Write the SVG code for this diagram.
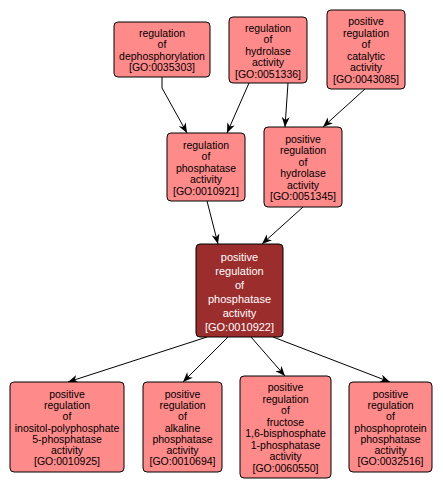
<svg xmlns="http://www.w3.org/2000/svg" width="443" height="490" viewBox="0 0 443 490">
<style>
.n rect{fill:#ff8a8a;stroke:#000;stroke-width:1}
.n text{font-family:"Liberation Sans",Arial,sans-serif;font-size:10.5px;fill:#000;text-anchor:middle}
.m rect{fill:#9b2d2d;stroke:#000;stroke-width:1}
.m text{font-family:"Liberation Sans",Arial,sans-serif;font-size:11px;fill:#fff;text-anchor:middle}
.e path{fill:none;stroke:#000;stroke-width:1;marker-end:url(#ah)}
</style>
<defs>
<marker id="ah" viewBox="0 0 10 8" refX="10" refY="4" markerWidth="10" markerHeight="8" markerUnits="userSpaceOnUse" orient="auto">
<path d="M0,0 L10,4 L0,8 L3,4 z" fill="#000"/>
</marker>
</defs>
<rect width="443" height="490" fill="#fff"/>
<g id="edges" class="e">
<path d="M162,77 L162,88 L187,133"/>
<path d="M249,83 L227,133"/>
<path d="M288,83 L285,127"/>
<path d="M365,89 L323,127"/>
<path d="M207,201 L218,244"/>
<path d="M303,207 L262,244"/>
<path d="M207,337 L68,382"/>
<path d="M228,337 L183,382"/>
<path d="M251,337 L285,376"/>
<path d="M273,337 L390,382"/>
</g>
<g id="GO0035303" class="n">
<rect x="114" y="22" width="96" height="55" rx="4"/>
<text><tspan x="162" y="36.75">regulation</tspan><tspan x="162" y="48.25">of</tspan><tspan x="162" y="59.75">dephosphorylation</tspan><tspan x="162" y="71.25">[GO:0035303]</tspan></text>
</g>
<g id="GO0051336" class="n">
<rect x="229" y="17" width="78" height="66" rx="4"/>
<text><tspan x="268" y="31.5">regulation</tspan><tspan x="268" y="43">of</tspan><tspan x="268" y="54.5">hydrolase</tspan><tspan x="268" y="66">activity</tspan><tspan x="268" y="77.5">[GO:0051336]</tspan></text>
</g>
<g id="GO0043085" class="n">
<rect x="327" y="10" width="78" height="79" rx="4"/>
<text><tspan x="366" y="25.25">positive</tspan><tspan x="366" y="36.75">regulation</tspan><tspan x="366" y="48.25">of</tspan><tspan x="366" y="59.75">catalytic</tspan><tspan x="366" y="71.25">activity</tspan><tspan x="366" y="82.75">[GO:0043085]</tspan></text>
</g>
<g id="GO0010921" class="n">
<rect x="167" y="133" width="78" height="68" rx="4"/>
<text><tspan x="206" y="148.5">regulation</tspan><tspan x="206" y="160">of</tspan><tspan x="206" y="171.5">phosphatase</tspan><tspan x="206" y="183">activity</tspan><tspan x="206" y="194.5">[GO:0010921]</tspan></text>
</g>
<g id="GO0051345" class="n">
<rect x="264" y="127" width="78" height="80" rx="4"/>
<text><tspan x="303" y="142.75">positive</tspan><tspan x="303" y="154.25">regulation</tspan><tspan x="303" y="165.75">of</tspan><tspan x="303" y="177.25">hydrolase</tspan><tspan x="303" y="188.75">activity</tspan><tspan x="303" y="200.25">[GO:0051345]</tspan></text>
</g>
<g id="GO0010922" class="m">
<rect x="196" y="244" width="87" height="93" rx="4"/>
<text><tspan x="239.5" y="261.3">positive</tspan><tspan x="239.5" y="275.3">regulation</tspan><tspan x="239.5" y="289.3">of</tspan><tspan x="239.5" y="303.3">phosphatase</tspan><tspan x="239.5" y="317.3">activity</tspan><tspan x="239.5" y="331.3">[GO:0010922]</tspan></text>
</g>
<g id="GO0010925" class="n">
<rect x="10" y="382" width="114" height="90" rx="4"/>
<text><tspan x="67" y="397.9">positive</tspan><tspan x="67" y="409.1">regulation</tspan><tspan x="67" y="420.3">of</tspan><tspan x="67" y="431.5">inositol-polyphosphate</tspan><tspan x="67" y="442.7">5-phosphatase</tspan><tspan x="67" y="453.9">activity</tspan><tspan x="67" y="465.1">[GO:0010925]</tspan></text>
</g>
<g id="GO0010694" class="n">
<rect x="143" y="382" width="79" height="90" rx="4"/>
<text><tspan x="182.5" y="397.9">positive</tspan><tspan x="182.5" y="409.1">regulation</tspan><tspan x="182.5" y="420.3">of</tspan><tspan x="182.5" y="431.5">alkaline</tspan><tspan x="182.5" y="442.7">phosphatase</tspan><tspan x="182.5" y="453.9">activity</tspan><tspan x="182.5" y="465.1">[GO:0010694]</tspan></text>
</g>
<g id="GO0060550" class="n">
<rect x="240" y="376" width="91" height="102" rx="4"/>
<text><tspan x="285.5" y="391.25">positive</tspan><tspan x="285.5" y="402.75">regulation</tspan><tspan x="285.5" y="414.25">of</tspan><tspan x="285.5" y="425.75">fructose</tspan><tspan x="285.5" y="437.25">1,6-bisphosphate</tspan><tspan x="285.5" y="448.75">1-phosphatase</tspan><tspan x="285.5" y="460.25">activity</tspan><tspan x="285.5" y="471.75">[GO:0060550]</tspan></text>
</g>
<g id="GO0032516" class="n">
<rect x="349" y="382" width="83" height="90" rx="4"/>
<text><tspan x="390.5" y="397.9">positive</tspan><tspan x="390.5" y="409.1">regulation</tspan><tspan x="390.5" y="420.3">of</tspan><tspan x="390.5" y="431.5">phosphoprotein</tspan><tspan x="390.5" y="442.7">phosphatase</tspan><tspan x="390.5" y="453.9">activity</tspan><tspan x="390.5" y="465.1">[GO:0032516]</tspan></text>
</g>
</svg>
